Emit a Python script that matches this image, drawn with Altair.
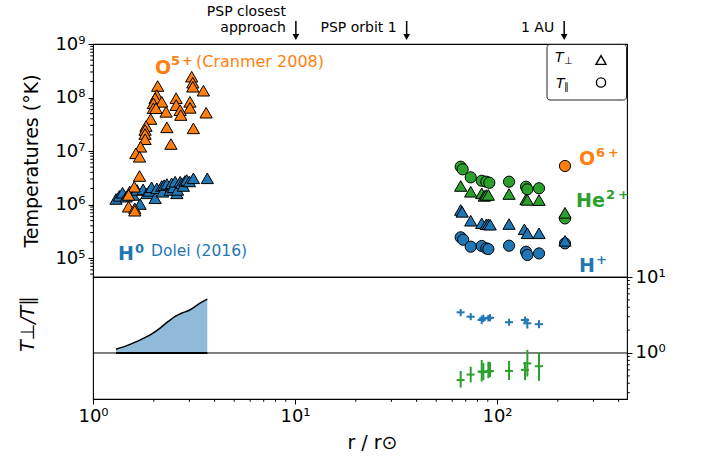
import altair as alt
import pandas as pd

FONT = "DejaVu Sans"
BLUE, ORANGE, GREEN = "#1f77b4", "#ff7f0e", "#2ca02c"
W, H1, H2 = 534, 233, 122

# ---------------- data ----------------
# O5+ perpendicular temperatures (Cranmer 2008)
o5_r = [3.08, 3.12, 3.12, 3.52, 3.63, 3.14, 3.02, 3.02, 2.58, 2.58, 2.70, 2.72,
        2.30, 2.32, 2.43, 2.09, 2.07, 2.03, 1.99, 2.19, 1.99, 2.05, 1.93, 1.83,
        1.81, 1.81, 1.81, 1.72, 1.63, 1.70, 1.70, 1.60, 1.50, 1.50, 1.61, 1.61]
o5_T = [2.45e8, 1.89e8, 1.59e8, 1.34e8, 5.2e7, 2.65e7, 8.3e7, 6.4e7, 9.7e7, 7.2e7,
        5.8e7, 4.7e7, 5.4e7, 2.77e7, 1.35e7, 1.64e8, 1.11e8, 9.7e7, 7.8e7, 8.3e7,
        6.3e7, 6.3e7, 3.96e7, 2.93e7, 2.47e7, 2.08e7, 1.66e7, 1.2e7, 9.06e6, 7.8e6,
        3.41e6, 2.15e6, 1.51e6, 9.1e5, 8.5e5, 7.66e5]

# H0 perpendicular temperatures (Dolei 2016)
h0_r = [1.30, 1.35, 1.40, 1.46, 1.52, 1.58, 1.65, 1.71, 1.77, 1.85, 1.90, 1.95,
        2.03, 2.07, 2.19, 2.21, 2.25, 2.32, 2.41, 2.45, 2.50, 2.55, 2.60, 2.62,
        2.70, 2.75, 2.80, 2.85, 2.91, 3.00, 3.14, 3.68]
h0_T = [1.27e6, 1.45e6, 1.66e6, 1.40e6, 1.75e6, 1.51e6, 1.87e6, 1.02e6, 1.92e6,
        1.62e6, 1.80e6, 2.10e6, 1.31e6, 2.01e6, 2.22e6, 1.73e6, 2.30e6, 2.42e6,
        1.87e6, 2.49e6, 2.10e6, 2.67e6, 1.62e6, 1.87e6, 2.67e6, 2.50e6, 2.22e6,
        2.75e6, 2.87e6, 2.70e6, 3.09e6, 3.09e6]

# solar wind (Helios + 1 AU)
he_par_r = [66.1, 67.6, 74.1, 84.0, 88.5, 91.6, 114.7, 139.2, 141.3, 161.4, 217]
he_par_T = [5.09e6, 4.55e6, 3.22e6, 2.78e6, 2.67e6, 2.55e6, 2.67e6, 2.15e6, 1.92e6, 2.01e6, 5.5e5]
he_perp_r = [66.1, 74.1, 84.0, 86.5, 88.5, 90.6, 114.7, 139.2, 141.3, 161.4, 217]
he_perp_T = [2.22e6, 1.73e6, 1.62e6, 1.45e6, 1.51e6, 1.51e6, 1.57e6, 1.25e6, 1.22e6, 1.21e6, 7.0e5]
h_perp_r = [66.1, 67.2, 74.1, 84.0, 88.5, 90.6, 92.5, 114.7, 136.5, 141.3, 161.4, 217]
h_perp_T = [7.9e5, 7.3e5, 4.98e5, 4.46e5, 4.27e5, 4.27e5, 4.2e5, 4.32e5, 3.44e5, 2.9e5, 2.9e5, 2.1e5]
h_par_r = [66.1, 68.0, 74.1, 84.0, 88.5, 90.6, 114.7, 139.2, 141.3, 161.4, 217]
h_par_T = [2.44e5, 2.2e5, 1.63e5, 1.68e5, 1.52e5, 1.47e5, 1.7e5, 1.31e5, 1.14e5, 1.22e5, 1.88e5]
o6_r = [217]
o6_T = [5.25e6]

# anisotropy T_perp / T_par
ratio_r = [66.1, 74.1, 84.0, 85.6, 90.6, 92.3, 114.7, 137.6, 141.3, 161.4]
ratio_r_err = [3.0, 3.4, 3.9, 4.0, 4.2, 4.3, 5.3, 6.4, 6.5, 7.5]
h_ratio = [3.43, 3.0, 2.72, 2.86, 2.86, 2.91, 2.54, 2.72, 2.46, 2.39]
h_ratio_lo = [3.05, 2.70, 2.40, 2.55, 2.60, 2.62, 2.28, 2.45, 2.10, 2.12]
h_ratio_hi = [3.80, 3.35, 3.10, 3.20, 3.15, 3.25, 2.82, 3.02, 2.85, 2.70]
he_ratio = [0.44, 0.52, 0.57, 0.56, 0.57, 0.58, 0.58, 0.60, 0.73, 0.67]
he_ratio_lo = [0.35, 0.41, 0.42, 0.44, 0.465, 0.48, 0.44, 0.44, 0.49, 0.43]
he_ratio_hi = [0.58, 0.66, 0.81, 0.74, 0.77, 0.76, 0.785, 0.76, 1.10, 1.02]

# coronal H0 anisotropy band
area_r = [1.30, 1.46, 1.64, 1.98, 2.14, 2.35, 2.54, 2.74, 3.01, 3.37, 3.68]
area_ratio = [1.12, 1.24, 1.41, 1.82, 2.11, 2.58, 3.0, 3.33, 3.68, 4.5, 5.13]

# top annotations
ann_r = [10.1, 35.7, 215.0]
ann_line1 = ["PSP closest", "", ""]
ann_line2 = ["approach", "PSP orbit 1", "1 AU"]

# axis ticks
x_major = [1, 10, 100]
x_minor = [2, 3, 4, 5, 6, 7, 8, 9, 20, 30, 40, 50, 60, 70, 80, 90, 200, 300, 400]
t_major = [1e5, 1e6, 1e7, 1e8, 1e9]
t_minor = [m * 10 ** e for e in range(4, 9) for m in range(2, 10) if m * 10 ** e >= 4.5e4]
r_major = [1, 10]
r_minor = [0.3, 0.4, 0.5, 0.6, 0.7, 0.8, 0.9, 2, 3, 4, 5, 6, 7, 8, 9]

# ---------------- scales / axes ----------------
XS = alt.Scale(type="log", domain=[1, 440], nice=False)
YT = alt.Scale(type="log", domain=[4.42e4, 1e9], nice=False)
YR = alt.Scale(type="log", domain=[0.248, 10], nice=False)

SUP = "{'0':'⁰','1':'¹','2':'²','5':'⁵','6':'⁶','7':'⁷','8':'⁸','9':'⁹'}"
LBL = ("'10' + (" + SUP + ")[format(round(log(datum.value)/LN10), 'd')]")
MAJ, MIN = 5, 2.8

x_axis = alt.Axis(
    orient="bottom", values=x_major, labelExpr=LBL, tickSize=MAJ,
    labelFlush=False, labelOverlap=False, labelFontSize=18, labelPadding=3,
    domain=False, grid=False, title="r / r⊙", titleFontSize=19, titlePadding=8,
    titleX=279, titleAlign="center",
)
t_axis = alt.Axis(
    orient="left", values=t_major, labelExpr=LBL, tickSize=MAJ,
    labelOverlap=False, labelFontSize=18, labelPadding=3, domain=False, grid=False,
    title="Temperatures (°K)", titleFontSize=19, titleAngle=270, titleX=-52,
    titleBaseline="bottom", titleAlign="center",
)
r_axis = alt.Axis(
    orient="right", values=r_major, labelExpr=LBL, tickSize=MAJ,
    labelOverlap=False, labelFontSize=18, labelPadding=3, domain=False, grid=False, title=None,
)


def pts(r, T, shape, color, size, axis=None):
    df = pd.DataFrame({"r": r, "T": T})
    return alt.Chart(df).mark_point(
        shape=shape, filled=True, fill=color, stroke="black", strokeWidth=1, size=size, opacity=1
    ).encode(
        x=alt.X("r:Q", scale=XS, axis=None),
        y=alt.Y("T:Q", scale=YT, axis=axis),
    )


def label(s, x, y, size, color="black", weight="normal", style="normal",
          align="left", baseline="alphabetic", angle=0):
    return alt.Chart(pd.DataFrame({"t": [s]})).mark_text(
        font=FONT, fontSize=size, color=color, fontWeight=weight, fontStyle=style,
        align=align, baseline=baseline, angle=angle,
    ).encode(text="t:N", x=alt.value(x), y=alt.value(y))


TRI, CIR = 150, 125

# ---------------- upper panel ----------------
h0 = pts(h0_r, h0_T, "triangle-up", BLUE, TRI, axis=t_axis)
t_minor_ticks = alt.Chart(pd.DataFrame({"T": t_minor})).mark_rule(color="black", strokeWidth=1).encode(
    y=alt.Y("T:Q", scale=YT, axis=None), x=alt.value(0), x2=alt.value(-MIN))
o5 = pts(o5_r, o5_T, "triangle-up", ORANGE, TRI)
hpar = pts(h_par_r, h_par_T, "circle", BLUE, CIR)
hperp = pts(h_perp_r, h_perp_T, "triangle-up", BLUE, TRI)
hepar = pts(he_par_r, he_par_T, "circle", GREEN, CIR)
heperp = pts(he_perp_r, he_perp_T, "triangle-up", GREEN, TRI)
o6 = pts(o6_r, o6_T, "circle", ORANGE, CIR)

ann = pd.DataFrame({"r": ann_r, "l1": ann_line1, "l2": ann_line2})
ax = alt.X("r:Q", scale=XS, axis=None)
stems = alt.Chart(ann).mark_rule(color="black", strokeWidth=1.5).encode(
    x=ax, y=alt.value(-23), y2=alt.value(-9))
heads = alt.Chart(ann).mark_point(shape="triangle-down", filled=True, color="black",
                                  size=45, opacity=1).encode(x=ax, y=alt.value(-7))
t1 = alt.Chart(ann).mark_text(font=FONT, fontSize=14, align="right", dx=-10).encode(
    x=ax, y=alt.value(-32), text="l1:N")
t2 = alt.Chart(ann).mark_text(font=FONT, fontSize=14, align="right", dx=-10).encode(
    x=ax, y=alt.value(-16), text="l2:N")

legend_box = alt.Chart(pd.DataFrame({"a": [0]})).mark_rect(
    fill="white", stroke="#222222", strokeWidth=1, cornerRadius=3
).encode(x=alt.value(454), x2=alt.value(533.5), y=alt.value(0.5), y2=alt.value(56))
leg_tri = alt.Chart(pd.DataFrame({"a": [0]})).mark_point(
    shape="triangle-up", filled=False, stroke="black", strokeWidth=1.4, size=100, opacity=1
).encode(x=alt.value(508), y=alt.value(16))
leg_circ = alt.Chart(pd.DataFrame({"a": [0]})).mark_point(
    shape="circle", filled=False, stroke="black", strokeWidth=1.4, size=85, opacity=1
).encode(x=alt.value(508), y=alt.value(38.5))

texts = [
    label("O", 62, 29.5, 19, ORANGE, "bold"),
    label("5", 78, 21, 13, ORANGE, "bold"),
    label("+", 89, 21, 13, ORANGE, "bold"),
    label("(Cranmer 2008)", 103, 23, 16, ORANGE),
    label("H", 25, 216, 19, BLUE, "bold"),
    label("0", 42, 209, 13, BLUE, "bold"),
    label("Dolei (2016)", 58, 212, 15.5, BLUE),
    label("O", 486, 121, 19, ORANGE, "bold"),
    label("6", 503, 113, 13, ORANGE, "bold"),
    label("+", 515, 113, 13, ORANGE, "bold"),
    label("He", 483, 162.5, 19, GREEN, "bold"),
    label("2", 513, 155, 13, GREEN, "bold"),
    label("+", 525, 155, 13, GREEN, "bold"),
    label("H", 486, 227.5, 19, BLUE, "bold"),
    label("+", 503, 220, 13, BLUE, "bold"),
    label("T", 462, 17.7, 14, style="italic"),
    label("⊥", 471, 20, 10),
    label("T", 463, 43.7, 14, style="italic"),
    label("∥", 471, 46, 10),
]

upper = alt.layer(
    h0, t_minor_ticks, o5, hpar, hperp, hepar, heperp, o6,
    stems, heads, t1, t2, legend_box, leg_tri, leg_circ, *texts
).resolve_axis(x="independent", y="independent").properties(width=W, height=H1)

# ---------------- lower panel ----------------
df_area = pd.DataFrame({"r": area_r, "ratio": area_ratio})
area = alt.Chart(df_area).mark_area(color="#8fbbd9", opacity=1, interpolate="monotone").encode(
    x=alt.X("r:Q", scale=XS, axis=x_axis),
    y=alt.Y("ratio:Q", scale=YR, axis=r_axis),
    y2=alt.datum(1),
)
x_minor_ticks = alt.Chart(pd.DataFrame({"r": x_minor})).mark_rule(color="black", strokeWidth=1).encode(
    x=alt.X("r:Q", scale=XS, axis=None), y=alt.value(H2), y2=alt.value(H2 + MIN))
r_minor_ticks = alt.Chart(pd.DataFrame({"ratio": r_minor})).mark_rule(color="black", strokeWidth=1).encode(
    y=alt.Y("ratio:Q", scale=YR, axis=None), x=alt.value(W), x2=alt.value(W + MIN))
area_line = alt.Chart(df_area).mark_line(color="black", strokeWidth=1.5, interpolate="monotone").encode(
    x=alt.X("r:Q", scale=XS, axis=None), y=alt.Y("ratio:Q", scale=YR, axis=None))
one_rule = alt.Chart(pd.DataFrame({"one": [1]})).mark_rule(color="black", strokeWidth=1).encode(
    y=alt.Y("one:Q", scale=YR, axis=None))
base_seg = alt.Chart(pd.DataFrame({"r0": [area_r[0]], "r1": [area_r[-1]], "one": [1]})).mark_rule(
    color="black", strokeWidth=2).encode(
    x=alt.X("r0:Q", scale=XS, axis=None), x2="r1:Q", y=alt.Y("one:Q", scale=YR, axis=None))


def crosses(vals, lo, hi, color):
    df = pd.DataFrame({
        "r": ratio_r,
        "rlo": [a - b for a, b in zip(ratio_r, ratio_r_err)],
        "rhi": [a + b for a, b in zip(ratio_r, ratio_r_err)],
        "v": vals, "lo": lo, "hi": hi,
    })
    xb = alt.Chart(df).mark_rule(color=color, strokeWidth=2).encode(
        x=alt.X("rlo:Q", scale=XS, axis=None), x2="rhi:Q", y=alt.Y("v:Q", scale=YR, axis=None))
    yb = alt.Chart(df).mark_rule(color=color, strokeWidth=2).encode(
        x=alt.X("r:Q", scale=XS, axis=None), y=alt.Y("lo:Q", scale=YR, axis=None), y2="hi:Q")
    return [xb, yb]


lower = alt.layer(
    area, x_minor_ticks, r_minor_ticks, area_line, one_rule, base_seg,
    *crosses(h_ratio, h_ratio_lo, h_ratio_hi, BLUE),
    *crosses(he_ratio, he_ratio_lo, he_ratio_hi, GREEN),
    label("T⊥/T∥", -55, 47, 19, style="italic", align="center", baseline="bottom", angle=270),
).resolve_axis(x="independent", y="independent").properties(width=W, height=H2)

chart = alt.vconcat(upper, lower, spacing=0, bounds="flush").properties(
    padding={"left": 18, "top": 4, "right": 5, "bottom": 5}
).configure_view(stroke="black", strokeWidth=1.1).configure_axis(
    labelFont=FONT, titleFont=FONT, titleFontWeight="normal",
    labelColor="black", titleColor="black", tickColor="black", tickWidth=1,
)

chart.save("out.html", embed_options={"renderer": "svg", "actions": False})
